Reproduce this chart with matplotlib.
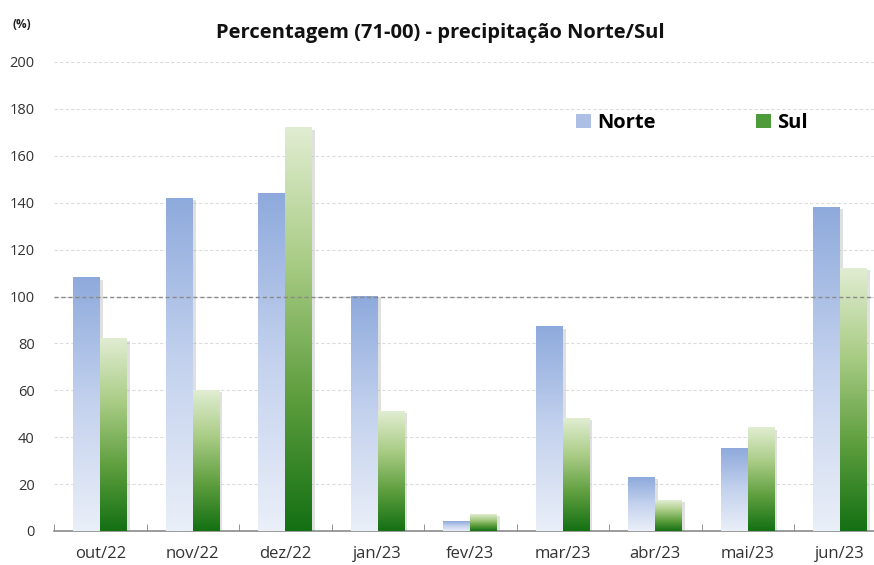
"""Percentagem (71-00) - precipitação Norte/Sul, barras com gradiente."""

import matplotlib

matplotlib.use("Agg")
import matplotlib.pyplot as plt
import numpy as np
from matplotlib.colors import LinearSegmentedColormap
from matplotlib.patches import Patch

months = ["out/22", "nov/22", "dez/22", "jan/23", "fev/23",
          "mar/23", "abr/23", "mai/23", "jun/23"]
norte = [108, 142, 144, 100, 4, 87, 23, 35, 138]
sul = [82, 60, 172, 51, 7, 48, 13, 44, 112]
ref_level = 100

plt.rcParams["font.family"] = ["Open Sans", "DejaVu Sans"]

# gradients go bottom -> top
cmap_norte = LinearSegmentedColormap.from_list("norte", ["#eaeff8", "#c4d2ee", "#8eaadc"])
cmap_sul = LinearSegmentedColormap.from_list("sul", ["#137013", "#5e9e3e", "#a9cc85", "#e1edd2"])
grad = np.linspace(0, 1, 256).reshape(-1, 1)

fig = plt.figure(figsize=(8.74, 5.65), dpi=100)
ax = fig.add_axes([54 / 874, 34 / 565, 9 * 92.5 / 874, 469 / 565])

x = np.arange(len(months))
w = 0.29


def gradient_bars(xs, vals, cmap):
    bars = ax.bar(xs, vals, width=w, color="none", zorder=3)
    for b in bars:
        x0, y0 = b.get_x(), b.get_y()
        bw, bh = b.get_width(), b.get_height()
        # soft drop shadow on the right
        ax.bar(x0 + bw + 0.015, bh - 0.8, width=0.03, bottom=0,
               color="#9a9a9a", alpha=0.3, zorder=2, linewidth=0)
        ax.imshow(grad, cmap=cmap, origin="lower", aspect="auto",
                  extent=(x0, x0 + bw, y0, y0 + bh), zorder=3,
                  interpolation="bilinear")
    return bars


gradient_bars(x - w / 2, norte, cmap_norte)
gradient_bars(x + w / 2, sul, cmap_sul)

ax.set_xlim(-0.5, len(months) - 0.5)
ax.set_ylim(0, 200)
ax.set_yticks(range(0, 201, 20))
ax.grid(True, axis="y", color="#dcdcdc", linestyle=(0, (3, 2)), linewidth=0.8, zorder=0)
ax.axhline(ref_level, color="#8a8a8a", linestyle=(0, (3, 2)), linewidth=1.0, zorder=4)

ax.set_xticks(x)
ax.set_xticklabels(months, fontsize=12, color="#333333")
ax.set_xticks(np.arange(-0.5, len(months), 1), minor=True)
ax.tick_params(axis="x", which="major", length=0, pad=11)
ax.tick_params(axis="x", which="minor", direction="in", length=5, color="#808080")
ax.tick_params(axis="y", length=0, labelsize=10.5, labelcolor="#333333", pad=14)
for s in ("left", "right", "top"):
    ax.spines[s].set_visible(False)
ax.spines["bottom"].set_color("#8a8a8a")
ax.spines["bottom"].set_linewidth(1.2)

fig.text(440 / 874, 1 - 33 / 565, "Percentagem (71-00) - precipitação Norte/Sul",
         ha="center", va="center", fontsize=14.5, fontweight="bold", color="#111111")
fig.text(22 / 874, 1 - 25 / 565, "(%)", ha="center", va="center",
         fontsize=8.5, fontweight="bold", color="#222222")

handles = [Patch(facecolor="#aebfe6", edgecolor="none", label="Norte"),
           Patch(facecolor="#4f9a3a", edgecolor="none", label="Sul")]
leg = fig.legend(handles=handles, loc="center", bbox_to_anchor=(692 / 874, 1 - 123 / 565),
                 ncol=2, frameon=False, handlelength=0.75, handleheight=0.75,
                 handletextpad=0.3, columnspacing=5.0,
                 prop={"size": 14.5, "weight": "bold"})

fig.savefig("out.png", dpi=100)
plt.close(fig)
